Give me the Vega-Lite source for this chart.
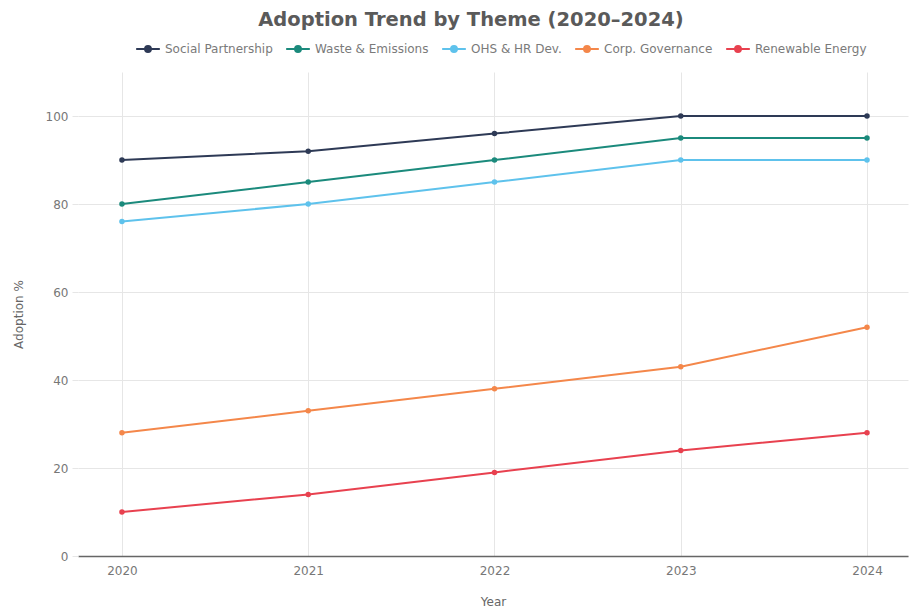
{
  "$schema": "https://vega.github.io/schema/vega-lite/v6.json",
  "width": 830,
  "height": 484,
  "autosize": "none",
  "padding": {"left": 78, "top": 72, "right": 4, "bottom": 54},
  "background": "white",
  "title": {
    "text": "Adoption Trend by Theme (2020–2024)",
    "anchor": "middle",
    "frame": "group",
    "dx": -22,
    "offset": 6,
    "fontSize": 19.5,
    "fontWeight": "bold",
    "color": "#5a5a5a",
    "font": "DejaVu Sans"
  },
  "data": {
    "values": [
      {"theme": "Social Partnership", "year": 2020, "pct": 90},
      {"theme": "Social Partnership", "year": 2021, "pct": 92},
      {"theme": "Social Partnership", "year": 2022, "pct": 96},
      {"theme": "Social Partnership", "year": 2023, "pct": 100},
      {"theme": "Social Partnership", "year": 2024, "pct": 100},
      {"theme": "Waste & Emissions", "year": 2020, "pct": 80},
      {"theme": "Waste & Emissions", "year": 2021, "pct": 85},
      {"theme": "Waste & Emissions", "year": 2022, "pct": 90},
      {"theme": "Waste & Emissions", "year": 2023, "pct": 95},
      {"theme": "Waste & Emissions", "year": 2024, "pct": 95},
      {"theme": "OHS & HR Dev.", "year": 2020, "pct": 76},
      {"theme": "OHS & HR Dev.", "year": 2021, "pct": 80},
      {"theme": "OHS & HR Dev.", "year": 2022, "pct": 85},
      {"theme": "OHS & HR Dev.", "year": 2023, "pct": 90},
      {"theme": "OHS & HR Dev.", "year": 2024, "pct": 90},
      {"theme": "Corp. Governance", "year": 2020, "pct": 28},
      {"theme": "Corp. Governance", "year": 2021, "pct": 33},
      {"theme": "Corp. Governance", "year": 2022, "pct": 38},
      {"theme": "Corp. Governance", "year": 2023, "pct": 43},
      {"theme": "Corp. Governance", "year": 2024, "pct": 52},
      {"theme": "Renewable Energy", "year": 2020, "pct": 10},
      {"theme": "Renewable Energy", "year": 2021, "pct": 14},
      {"theme": "Renewable Energy", "year": 2022, "pct": 19},
      {"theme": "Renewable Energy", "year": 2023, "pct": 24},
      {"theme": "Renewable Energy", "year": 2024, "pct": 28}
    ]
  },
  "encoding": {
    "x": {
      "field": "year",
      "type": "quantitative",
      "title": "Year",
      "scale": {"domain": [2019.764, 2024.22], "nice": false, "zero": false},
      "axis": {
        "values": [2020, 2021, 2022, 2023, 2024],
        "format": "d",
        "ticks": false,
        "domain": true,
        "domainColor": "#666666",
        "domainWidth": 1.5,
        "labelPadding": 9,
        "titlePadding": 20
      }
    },
    "y": {
      "field": "pct",
      "type": "quantitative",
      "title": "Adoption %",
      "scale": {"domain": [0, 110], "nice": false},
      "axis": {
        "values": [0, 20, 40, 60, 80, 100],
        "domain": false,
        "ticks": true,
        "tickColor": "#e6e6e6",
        "tickSize": 6,
        "labelPadding": 4,
        "titlePadding": 20
      }
    },
    "color": {
      "field": "theme",
      "type": "nominal",
      "title": null,
      "sort": ["Social Partnership", "Waste & Emissions", "OHS & HR Dev.", "Corp. Governance", "Renewable Energy"],
      "scale": {
        "domain": ["Social Partnership", "Waste & Emissions", "OHS & HR Dev.", "Corp. Governance", "Renewable Energy"],
        "range": ["#2e3a56", "#1b8a7c", "#5ec2ec", "#f4874a", "#e8414f"]
      },
      "legend": {
        "orient": "none",
        "direction": "horizontal",
        "legendX": 57,
        "legendY": -36,
        "symbolType": "M-1,0L1,0M0.25,0A0.25,0.25 0 1,1 -0.25,0A0.25,0.25 0 1,1 0.25,0",
        "symbolSize": 560,
        "symbolStrokeWidth": 2,
        "labelFont": "DejaVu Sans",
        "labelFontSize": 12,
        "labelColor": "#7a7a7a",
        "columnPadding": 9,
        "labelOffset": 4
      }
    }
  },
  "layer": [
    {"mark": {"type": "line", "strokeWidth": 2}},
    {"mark": {"type": "circle", "size": 30, "opacity": 1}}
  ],
  "config": {
    "font": "DejaVu Sans",
    "view": {"stroke": null},
    "axis": {
      "gridColor": "#e6e6e6",
      "gridWidth": 1,
      "labelColor": "#777777",
      "labelFont": "DejaVu Sans",
      "labelFontSize": 12,
      "titleColor": "#666666",
      "titleFont": "DejaVu Sans",
      "titleFontSize": 12,
      "titleFontWeight": "normal"
    }
  }
}
